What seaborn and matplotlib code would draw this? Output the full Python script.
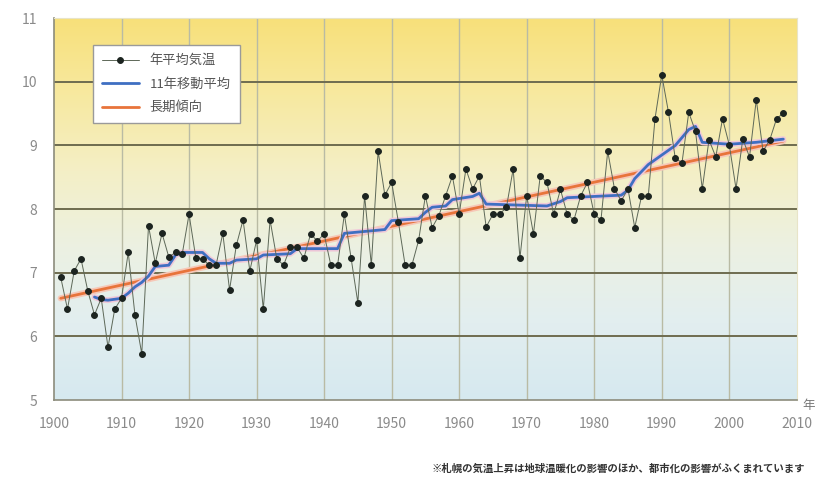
import numpy as np
import pandas as pd
import matplotlib
matplotlib.use('Agg')
import matplotlib.pyplot as plt
from matplotlib.colors import LinearSegmentedColormap
import seaborn as sns

# annual mean temperature (Sapporo)
years = list(range(1901, 2009))
temps = [6.93, 6.43, 7.03, 7.22, 6.72, 6.34, 6.60, 5.83, 6.43, 6.60,
         7.32, 6.33, 5.73, 7.74, 7.15, 7.62, 7.25, 7.32, 7.30, 7.92,
         7.24, 7.22, 7.12, 7.12, 7.62, 6.73, 7.43, 7.83, 7.03, 7.51,
         6.43, 7.83, 7.22, 7.12, 7.40, 7.40, 7.23, 7.61, 7.50, 7.61,
         7.12, 7.12, 7.92, 7.23, 6.53, 8.21, 7.12, 8.91, 8.22, 8.42,
         7.80, 7.12, 7.12, 7.51, 8.21, 7.71, 7.90, 8.21, 8.52, 7.92,
         8.63, 8.32, 8.52, 7.72, 7.92, 7.92, 8.03, 8.63, 7.23, 8.21,
         7.61, 8.52, 8.42, 7.92, 8.31, 7.92, 7.83, 8.21, 8.42, 7.92,
         7.83, 8.91, 8.32, 8.13, 8.32, 7.71, 8.20, 8.20, 9.42, 10.11,
         9.52, 8.80, 8.73, 9.52, 9.22, 8.32, 9.09, 8.82, 9.42, 9.01,
         8.32, 9.10, 8.82, 9.72, 8.91, 9.09, 9.42, 9.51]

# 11-year moving average, vertices
ma_years = [1906, 1907, 1908, 1910, 1911, 1912, 1913, 1914, 1915, 1917,
            1918, 1919, 1922, 1923, 1924, 1926, 1927, 1930, 1931, 1935,
            1936, 1942, 1943, 1949, 1950, 1954, 1955, 1956, 1958, 1959,
            1962, 1963, 1964, 1973, 1975, 1976, 1984, 1985, 1986, 1988,
            1990, 1992, 1994, 1995, 1996, 2000, 2004, 2008]
ma_vals = [6.62, 6.58, 6.57, 6.60, 6.68, 6.78, 6.85, 6.95, 7.10, 7.12,
           7.28, 7.32, 7.32, 7.22, 7.15, 7.15, 7.20, 7.22, 7.28, 7.30,
           7.38, 7.38, 7.62, 7.68, 7.82, 7.85, 7.95, 8.03, 8.05, 8.15,
           8.20, 8.25, 8.08, 8.05, 8.12, 8.18, 8.22, 8.30, 8.48, 8.70,
           8.85, 9.00, 9.25, 9.30, 9.05, 9.02, 9.05, 9.10]

# long-term trend line endpoints
trend_years = [1901, 2008]
trend_vals = [6.60, 9.07]

labels = ['年平均気温', '11年移動平均', '長期傾向']
x_ticks = list(range(1900, 2011, 10))
y_ticks = [5, 6, 7, 8, 9, 10, 11]

sns.set_style('white')
plt.rcParams['font.family'] = ['Noto Sans CJK JP', 'DejaVu Sans']

df = pd.DataFrame({'year': years, 'temp': temps})
df_ma = pd.DataFrame({'year': ma_years, 'temp': ma_vals})
df_tr = pd.DataFrame({'year': trend_years, 'temp': trend_vals})

fig = plt.figure(figsize=(8.24, 4.91), dpi=100)
ax = fig.add_axes([0.0655, 0.185, 0.9015, 0.778])

# background gradient: yellow on top -> light blue at bottom
bg = LinearSegmentedColormap.from_list(
    'bg', ['#d6e9ef', '#e2eef0', '#ecf1e2', '#f4efc6', '#f7e9a0', '#f8e07a'])
grad = np.linspace(0, 1, 256).reshape(-1, 1)
ax.imshow(grad, cmap=bg, origin='lower', aspect='auto',
          extent=[1900, 2010, 5, 11], zorder=0)

for x in x_ticks[1:-1]:
    ax.axvline(x, color='#b9bba4', lw=1.0, zorder=1)
for y in y_ticks[1:-1]:
    ax.axhline(y, color='#6e6c4f', lw=1.4, zorder=1)

# trend line with pale halo
sns.lineplot(data=df_tr, x='year', y='temp', ax=ax, color='#f6c8b8',
             lw=4.5, zorder=2)
sns.lineplot(data=df_tr, x='year', y='temp', ax=ax, color='#e8743b',
             lw=2.0, zorder=3, label=labels[2])
# moving average with pale halo
sns.lineplot(data=df_ma, x='year', y='temp', ax=ax, color='#f0c8d8',
             lw=4.2, zorder=4)
sns.lineplot(data=df_ma, x='year', y='temp', ax=ax, color='#3f6fc2',
             lw=2.0, zorder=5, label=labels[1])
# annual values
sns.lineplot(data=df, x='year', y='temp', ax=ax, color='#5d6858', lw=0.7,
             marker='o', markersize=4.2, markerfacecolor='#1c2420',
             markeredgecolor='#1c2420', zorder=6, label=labels[0])

ax.set_xlim(1900, 2010)
ax.set_ylim(5, 11)
ax.set_xticks(x_ticks)
ax.set_yticks(y_ticks)
ax.set_xlabel('')
ax.set_ylabel('')
ax.tick_params(axis='both', length=0, labelsize=10, colors='#8a8a8a')
ax.tick_params(axis='x', pad=12)
ax.tick_params(axis='y', pad=12)
for side in ['left', 'bottom']:
    ax.spines[side].set_color('#8c8c7c')
    ax.spines[side].set_linewidth(1.2)
for side in ['top', 'right']:
    ax.spines[side].set_color('#e8e4c8')

h, l = ax.get_legend_handles_labels()
order = [l.index(s) for s in labels]
leg = ax.legend([h[i] for i in order], [l[i] for i in order],
                loc='upper left', bbox_to_anchor=(0.052, 0.93),
                borderaxespad=0, frameon=True, fancybox=False, fontsize=9.5,
                handlelength=2.8, borderpad=0.7, labelspacing=0.8)
leg.get_frame().set_edgecolor('#9a9a9a')
leg.get_frame().set_facecolor('white')
leg.get_frame().set_alpha(1)
for t in leg.get_texts():
    t.set_color('#555555')

fig.text(0.981, 0.168, '年', fontsize=9, color='#777777', ha='center')
fig.text(0.977, 0.04,
         '※札幌の気温上昇は地球温暖化の影響のほか、都市化の影響がふくまれています',
         fontsize=7.5, fontweight='bold', color='#333333', ha='right')

fig.savefig('out.png', dpi=100)
